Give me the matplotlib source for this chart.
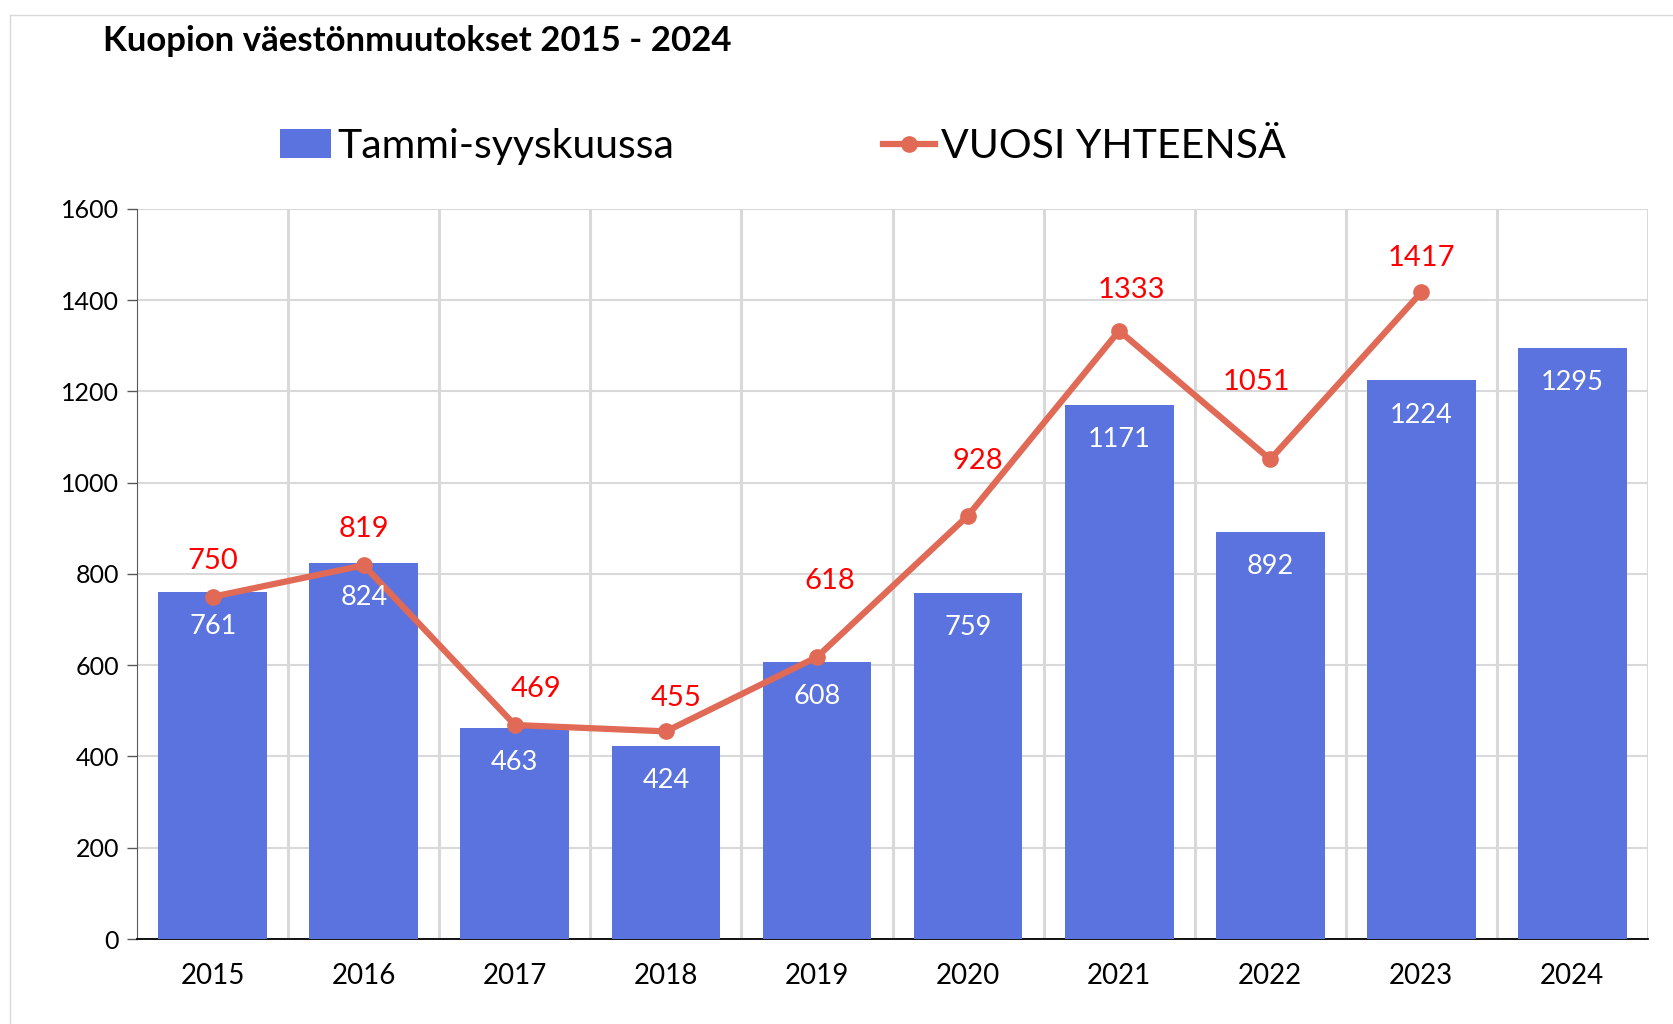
import numpy as np
import matplotlib
matplotlib.use("Agg")
import matplotlib.pyplot as plt
from matplotlib.lines import Line2D
from matplotlib.patches import Patch

plt.rcParams['font.family'] = ['Lato', 'DejaVu Sans']

# Data
years = ["2015", "2016", "2017", "2018", "2019", "2020", "2021", "2022", "2023", "2024"]
tammi_syys = [761, 824, 463, 424, 608, 759, 1171, 892, 1224, 1295]
vuosi_yht = [750, 819, 469, 455, 618, 928, 1333, 1051, 1417, np.nan]

# label offsets for the red line labels (points), placed by hand like in the original
line_lbl_off = [(0, 26), (0, 26), (15, 26), (7, 24), (9, 55), (7, 39), (9, 29), (-10, 56), (0, 25)]

bar_color = "#5B73DE"
line_color = "#E06A55"
grid_color = "#D9D9D9"

fig = plt.figure(figsize=(16.73, 10.24), dpi=100)
ax = fig.add_axes([0.082, 0.083, 0.903, 0.713])

x = np.arange(len(years))
ax.bar(x, tammi_syys, width=0.72, color=bar_color, zorder=3)
ax.plot(x, vuosi_yht, color=line_color, lw=4.5, marker="o", markersize=11, zorder=4)

# white labels inside bars
for xi, v in zip(x, tammi_syys):
    ax.annotate(str(v), (xi, v), xytext=(0, -25), textcoords="offset points",
                ha="center", va="center", color="white", fontsize=19.5, zorder=5)

# red labels for the line
for xi, v, off in zip(x, vuosi_yht, line_lbl_off):
    if np.isnan(v):
        continue
    ax.annotate(str(int(v)), (xi, v), xytext=off, textcoords="offset points",
                ha="center", va="center", color="#FF0000", fontsize=21, zorder=5)

ax.set_xlim(-0.5, len(years) - 0.5)
ax.set_ylim(0, 1600)
ax.set_yticks(np.arange(0, 1601, 200))
ax.set_xticks(x)
ax.set_xticklabels(years)
ax.set_xticks(np.arange(0.5, len(years), 1), minor=True)

ax.grid(axis="y", which="major", color=grid_color, lw=1.5, zorder=0)
ax.grid(axis="x", which="minor", color=grid_color, lw=2.2, zorder=0)
ax.set_axisbelow(True)

ax.tick_params(axis="x", which="both", length=0, labelsize=20, pad=17)
ax.tick_params(axis="y", length=7, width=1, color="#595959", labelsize=18, pad=6)

for s in ["top", "right"]:
    ax.spines[s].set_visible(False)
ax.spines["left"].set_color("#595959")
ax.spines["bottom"].set_color("black")
ax.spines["bottom"].set_linewidth(1.3)

# title
fig.text(0.0616, 0.96, "Kuopion väestönmuutokset 2015 - 2024", fontsize=25,
         fontweight="bold", ha="left", va="center")

# legend
handles = [Patch(facecolor=bar_color),
           Line2D([0], [0], color=line_color, lw=4.5, marker="o", markersize=11)]
fig.legend(handles, ["Tammi-syyskuussa", "VUOSI YHTEENSÄ"], loc="center",
           bbox_to_anchor=(0.468, 0.857), ncol=2, frameon=False, fontsize=29.5,
           handlelength=1.25, handletextpad=0.15, columnspacing=5.1)

# outer frame lines of the chart area
fig.add_artist(Line2D([10 / 1673, 10 / 1673], [0, 1 - 15 / 1024],
                      transform=fig.transFigure, color="#D9D9D9", lw=1))
fig.add_artist(Line2D([10 / 1673, 1], [1 - 15 / 1024, 1 - 15 / 1024],
                      transform=fig.transFigure, color="#D9D9D9", lw=1))

fig.savefig("out.png", dpi=100)
